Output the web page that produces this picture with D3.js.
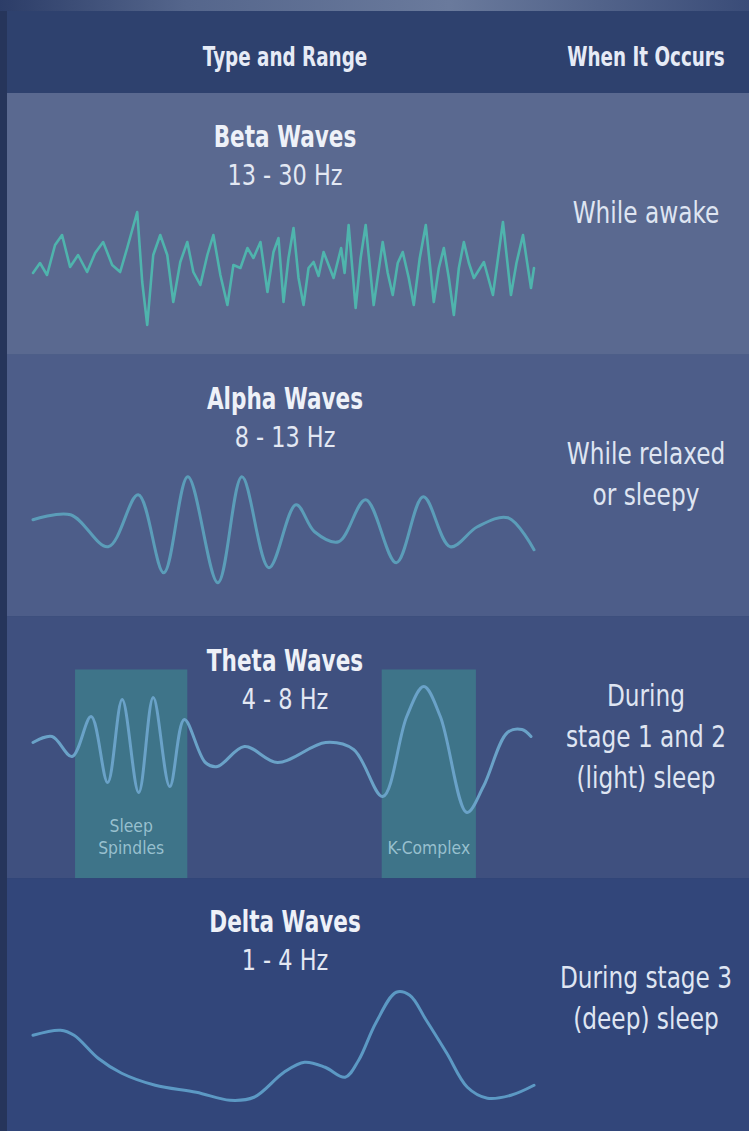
<!DOCTYPE html>
<html>
<head>
<meta charset="utf-8">
<script src="https://cdn.jsdelivr.net/npm/d3@7"></script>
<style>
  html, body { margin: 0; padding: 0; background: #2f4270; overflow: hidden; }
  svg { display: block; }
</style>
</head>
<body>
<div id="chart"></div>
<script>
// ---------------- DATA ----------------
const headerLabels = ["Type and Range", "When It Occurs"];
const waveNames = ["Beta Waves", "Alpha Waves", "Theta Waves", "Delta Waves"];
const freqRanges = ["13 - 30 Hz", "8 - 13 Hz", "4 - 8 Hz", "1 - 4 Hz"];
const occursText = [
  ["While awake"],
  ["While relaxed", "or sleepy"],
  ["During", "stage 1 and 2", "(light) sleep"],
  ["During stage 3", "(deep) sleep"]
];

// wave traces: [time (0-100), amplitude]
const betaWave = [
  [0,-5],[1.4,5],[2.8,-7],[4.4,23],[5.8,33],[7.4,1],[9,13],[10.8,-4],[12.4,15],[14,26],
  [15.8,3],[17.4,-4],[18.8,20],[20.8,56],[21.8,-14],[22.8,-57],[24,13],[25.4,33],[26.8,13],
  [28,-34],[29.4,6],[30.8,26],[32,-4],[33.4,-17],[34.8,13],[36,33],[37.4,-7],[38.8,-37],
  [40,3],[41.4,0],[42.8,20],[44,10],[45.4,26],[46.8,-24],[48,16],[49,30],[50,-34],[51,10],[52,40],
  [53,-10],[54,-37],[55,0],[56,6],[57,-8],[58,16],[60,-10],[61.5,20],[62.2,-5],[63,43],[64.4,-40],[65.4,10],[66.4,43],[68,-37],[69.8,26],[70.8,-5],[71.8,-27],
  [72.8,5],[73.8,16],[75,-10],[76,-37],[77.2,10],[78.4,43],[80,-34],[81,0],[82,20],[83,-10],[84,-47],[85,0],[86,26],[87,5],[88,-10],[90,6],[91.8,-27],
  [93.8,46],[95.4,-27],[96.5,5],[97.8,33],[99.4,-20],[100,0]
];
const alphaWave = [
  [0,10],[7.5,15],[15,-17],[21,35],[26.1,-43],[30.9,53],[36.9,-53],[41.7,53],[47.1,-38],
  [52.5,25],[56.2,-2],[61,-12],[66.4,30],[72.5,-33],[77.9,33],[83.3,-17],[88.7,3],[94.8,12],[100,-20]
];
const thetaWave = [
  [0,2],[3.8,8],[7.8,-12],[11.6,28],[14.9,-38],[17.8,45],[21.1,-48],[24,47],[27.3,-42],
  [30.2,25],[34.4,-18],[36.8,-22],[42.2,-2],[48.8,-18],[58.4,2],[64,-5],[69.8,-52],[74.6,28],
  [78,58],[81.3,28],[86.6,-68],[89.9,-42],[94.7,12],[97.6,15],[99.4,8]
];
const deltaWave = [
  [0,25],[5.5,30],[8.2,25],[13,2],[17.7,-13],[24.4,-25],[32.6,-32],[39.3,-40],[44.1,-37],
  [50.1,-12],[54.2,-2],[58.3,-7],[62.3,-17],[65,0],[68.4,37],[72.5,68],[75.2,65],[78.5,40],
  [82.6,7],[86.7,-27],[90.7,-38],[95.4,-35],[100,-25]
];
const waveData = [betaWave, alphaWave, thetaWave, deltaWave];

// highlighted regions of the theta trace (time range)
const thetaMarkerLabels = [["Sleep", "Spindles"], ["K-Complex"]];
const thetaMarkerStart = [8.4, 69.6];
const thetaMarkerEnd = [30.8, 88.4];
const thetaMarkerTop = 75; // amplitude level of box top

// ---------------- LAYOUT / STYLE ----------------
const W = 749, H = 1131;
const headerH = 93;
const rowFill = ["#5a6990", "#4d5d89", "#3f507f", "#32467a"];
const waveColor = ["#4fb4ad", "#5b9db9", "#6aa2c8", "#5c99c4"];
const waveCenter = [175, 175, 128, 182];
const titleX = 285, occursX = 646;
const fontFam = "'DejaVu Sans', sans-serif";

const svg = d3.select("#chart").append("svg")
  .attr("width", W).attr("height", H)
  .attr("viewBox", `0 0 ${W} ${H}`);

// condensed text helper (horizontal squeeze, centred)
function ctext(parent, str, cx, y, opts) {
  return parent.append("text")
    .attr("transform", `translate(${cx},${y}) scale(${opts.squeeze},1)`)
    .attr("x", 0).attr("y", 0)
    .attr("text-anchor", "middle")
    .attr("font-family", fontFam)
    .attr("font-weight", opts.bold ? "bold" : "normal")
    .attr("font-size", opts.size)
    .attr("fill", opts.fill)
    .attr("fill-opacity", opts.opacity || 1)
    .text(str);
}

const defs = svg.append("defs");
const topGrad = defs.append("linearGradient").attr("id", "topGrad")
  .attr("x1", "0%").attr("x2", "100%").attr("y1", "0%").attr("y2", "0%");
topGrad.append("stop").attr("offset", "0%").attr("stop-color", "#2c3d68");
topGrad.append("stop").attr("offset", "25%").attr("stop-color", "#55668c");
topGrad.append("stop").attr("offset", "60%").attr("stop-color", "#6a7a9c");
topGrad.append("stop").attr("offset", "100%").attr("stop-color", "#3a4c78");

// background / header
svg.append("rect").attr("x", 0).attr("y", 0).attr("width", W).attr("height", headerH).attr("fill", "#2e416e");
svg.append("rect").attr("x", 0).attr("y", 0).attr("width", W).attr("height", 11).attr("fill", "url(#topGrad)");

const rowScale = d3.scaleBand().domain(waveNames).range([headerH, headerH + 4 * 261.75]).paddingInner(0);
const xScale = d3.scaleLinear().domain([0, 100]).range([33, 534]);

const rows = svg.selectAll("g.row").data(waveNames).join("g")
  .attr("class", "row")
  .attr("transform", d => `translate(0,${rowScale(d)})`);

rows.append("rect")
  .attr("x", 0).attr("y", 0)
  .attr("width", W).attr("height", rowScale.bandwidth())
  .attr("fill", (d, i) => rowFill[i]);

// left dark edge
svg.append("rect").attr("x", 0).attr("y", 11).attr("width", 7).attr("height", H).attr("fill", "#26355b");

// header labels
headerLabels.forEach((d, i) => {
  ctext(svg, d, i === 0 ? titleX : occursX, 66, { bold: true, size: 27, squeeze: 0.68, fill: "#e6ebf6" });
});

// theta marker boxes
const thetaIdx = 2;
const thetaG = rows.filter((d, i) => i === thetaIdx);
const amp = i => d3.scaleLinear().domain([-100, 100]).range([waveCenter[i] + 100, waveCenter[i] - 100]);
const thetaY = amp(thetaIdx);

const clip = defs.append("clipPath").attr("id", "thetaClip");
thetaMarkerLabels.forEach((lab, k) => {
  const x0 = xScale(thetaMarkerStart[k]), x1 = xScale(thetaMarkerEnd[k]);
  const y0 = thetaY(thetaMarkerTop), y1 = rowScale.bandwidth();
  thetaG.append("rect")
    .attr("x", x0).attr("y", y0).attr("width", x1 - x0).attr("height", y1 - y0)
    .attr("fill", "rgb(60,175,155)").attr("fill-opacity", 0.38);
  clip.append("rect").attr("x", x0).attr("y", y0 + rowScale(waveNames[thetaIdx]))
    .attr("width", x1 - x0).attr("height", y1 - y0);
  lab.forEach((line, j) => {
    ctext(thetaG, line, (x0 + x1) / 2, y1 - 24 - (lab.length - 1 - j) * 22,
      { bold: false, size: 17, squeeze: 0.92, fill: "#a9cfdc", opacity: 0.85 });
  });
});

// waves
rows.each(function (name, i) {
  const g = d3.select(this);
  const y = amp(i);
  const line = d3.line()
    .x(d => xScale(d[0]))
    .y(d => y(d[1]))
    .curve(i === 0 ? d3.curveLinear : d3.curveCatmullRom.alpha(0.5));
  g.append("path")
    .datum(waveData[i])
    .attr("d", line)
    .attr("fill", "none")
    .attr("stroke", waveColor[i])
    .attr("stroke-width", i === 0 ? 2.6 : 3)
    .attr("stroke-linejoin", "round")
    .attr("stroke-linecap", "round");
  if (i === thetaIdx) {
    svg.append("g").attr("clip-path", "url(#thetaClip)")
      .attr("transform", `translate(0,${rowScale(name)})`)
      .append("path")
      .datum(waveData[i])
      .attr("d", line)
      .attr("fill", "none")
      .attr("stroke", "#4fc3b2")
      .attr("stroke-width", 3)
      .attr("stroke-linejoin", "round");
  }

  // titles
  ctext(g, name, titleX, 54, { bold: true, size: 30, squeeze: 0.72, fill: "#eef1f8" });
  ctext(g, freqRanges[i], titleX, 92, { bold: false, size: 28, squeeze: 0.8, fill: "#e3e8f3" });

  // when it occurs
  const lines = occursText[i];
  const spacing = 41;
  const mid = 120;
  lines.forEach((t, j) => {
    ctext(g, t, occursX, mid + (j - (lines.length - 1) / 2) * spacing + 10,
      { bold: false, size: 30, squeeze: 0.775, fill: "#dfe5f2" });
  });
});
</script>
</body>
</html>
